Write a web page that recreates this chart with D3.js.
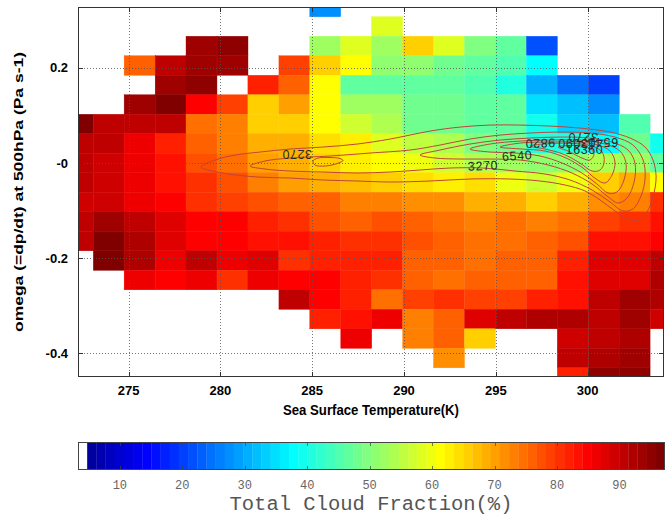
<!DOCTYPE html>
<html>
<head>
<meta charset="utf-8">
<script src="https://cdn.jsdelivr.net/npm/d3@7"></script>
<style>
  html, body { margin: 0; padding: 0; background: #fff; }
  svg { display: block; }
</style>
</head>
<body>
<svg id="chart" width="665" height="515"></svg>
<script>
// ---- Bins: SST (K) column centres and omega (Pa s-1) row centres ----
const sstCenters = [272.23, 273.92, 275.60, 277.29, 278.97, 280.66, 282.34, 284.03, 285.71, 287.40,
                    289.08, 290.77, 292.45, 294.14, 295.82, 297.51, 299.19, 300.88, 302.56, 304.25];
const sstBinWidth = 1.685;
const omegaCenters = [0.328, 0.287, 0.246, 0.205, 0.164, 0.123, 0.082, 0.041, 0, -0.041,
                      -0.082, -0.123, -0.164, -0.205, -0.246, -0.287, -0.328, -0.369, -0.41, -0.451];
const omegaBinWidth = 0.041;

// ---- Mean total cloud fraction (%) per bin; rows follow omegaCenters, columns follow sstCenters ----
const _ = null;
const cloudFraction = [
  [_, _, _, _, _, _, _, _, 28, _, _, _, _, _, _, _, _, _, _, _],
  [_, _, _, _, _, _, _, _, _, _, 59, _, _, _, _, _, _, _, _, _],
  [_, _, _, _, 93, 95, _, _, 52, 58, 52, 66, 58, 50, 46, 21, _, _, _, _],
  [_, _, 76, 90, 93, 94, _, 79, 66, 62, 51, 51.5, 48.5, 46, 45, 38, _, _, _, _],
  [_, _, _, 94, 95.5, _, 82, 75.5, 62, 47, 46, 47, 47, 44.5, 40.5, 30.5, 24, 19.5, _, _],
  [_, _, 94, 97, 84.5, 79, 65.5, 70, 61, 52, 52, 48, 48, 46, 46, 35.5, 31.5, 27, _, _],
  [97, 90, 90, 90, 75, 72.5, 66, 65, 61, 57, 53.5, 48.5, 48, 47, 46, 39, 33.5, 32.5, 45.5, _],
  [90.5, 90, 86, 82, 75.5, 73.5, 69, 68, 64.5, 62.5, 58.5, 55.5, 54, 49, 48, 41, 40.5, 38, 47.5, 39],
  [90.5, 88.5, 86.5, 84, 77.5, 74, 70, 69, 65, 62.5, 61.5, 60, 57.5, 54, 52, 51.5, 51.5, 53.5, 52, 46],
  [90, 88.5, 87, 84, 80, 77, 73, 70.5, 68.5, 66.5, 65.5, 64, 63, 64, 60, 57, 60, 65, 68, 62],
  [89.5, 89, 87, 85.5, 80.5, 79, 77.5, 75.5, 75.5, 73.5, 73.5, 72, 72, 69, 68, 66, 69, 72, 73.5, 80],
  [90, 93.5, 90.5, 88, 85, 84.5, 82, 80, 78, 76, 77, 75.5, 74.5, 73, 74, 73, 74.5, 79, 81, 83],
  [90, 96.5, 91.5, 88, 85, 85, 83.5, 83.5, 82.5, 80.5, 80.5, 77.5, 75.5, 74.5, 74.5, 75.5, 78, 84, 83, 85],
  [_, 97, 91.5, 86.5, 90, 87, 88, 81, 82, 81.5, 82, 76, 75.5, 74.5, 75.5, 76, 82, 87.5, 88, 90.5],
  [_, _, 86.5, 85.5, 86, 80.5, 86.5, 84.5, 84.5, 82.5, 80.5, 75.5, 74.5, 75.5, 75.5, 75.5, 83, 87.5, 88, 91.5],
  [_, _, _, _, _, _, _, 90, 84.5, 82.5, 74.5, 79.5, 80.5, 79.5, 79.5, 82.5, 83.5, 90.5, 93.5, 92.5],
  [_, _, _, _, _, _, _, _, 81.5, 83, 86, 73, 75.5, 88, 90.5, 92.5, 92, 90.5, 94, 89.5],
  [_, _, _, _, _, _, _, _, _, 87, _, 73.5, 75.5, 66, _, _, 89.5, 91, 92.5, _],
  [_, _, _, _, _, _, _, _, _, _, _, _, 72, _, _, _, 90, 92.5, 94, _],
  [_, _, _, _, _, _, _, _, _, _, _, _, _, _, _, _, 82.5, 94.5, 94.5, _]
];

// ---- Axis ticks ----
const xTicks = [275, 280, 285, 290, 295, 300];
const yTicks = [0.2, 0, -0.2, -0.4];
const yTickLabels = ["0.2", "-0", "-0.2", "-0.4"];
const colorbarTicks = [10, 20, 30, 40, 50, 60, 70, 80, 90];

// ---- Sample-count contours, [SST (K), omega (Pa s-1)] ----
const contour3270Outer = [
  [278.94, -0.0084], [279.71, 0.0063], [280.80, 0.0168], [282.16, 0.0231], [283.79, 0.0294],
  [285.59, 0.0336], [287.44, 0.0399], [289.24, 0.0504], [291.42, 0.0672], [293.05, 0.0756],
  [294.68, 0.0798], [296.32, 0.0798], [297.95, 0.0777], [299.58, 0.0735], [301.22, 0.0651],
  [302.31, 0.0525], [303.13, 0.0336], [303.56, 0.0063], [303.73, -0.0294], [303.56, -0.0714],
  [303.23, -0.1029], [302.75, -0.1197], [302.15, -0.1176], [301.49, -0.1008], [300.68, -0.0777],
  [299.86, -0.0588], [298.77, -0.0462], [297.41, -0.0378], [295.77, -0.0336], [293.59, -0.0336],
  [291.42, -0.0378], [289.24, -0.0399], [287.44, -0.0378], [285.59, -0.0357], [283.79, -0.0315],
  [281.99, -0.0294], [280.14, -0.0210]
];
const contour3270Inner = [
  [281.61, -0.0063], [282.43, 0.0042], [283.79, 0.0105], [285.97, 0.0147], [288.15, 0.0210],
  [290.33, 0.0273], [291.96, 0.0378], [293.59, 0.0504], [295.23, 0.0588], [296.86, 0.0630],
  [298.50, 0.0651], [300.13, 0.0630], [301.49, 0.0546], [302.47, 0.0378], [303.02, 0.0063],
  [303.13, -0.0315], [302.91, -0.0693], [302.47, -0.0966], [301.93, -0.1008], [301.22, -0.0819],
  [300.24, -0.0567], [299.04, -0.0357], [297.68, -0.0231], [296.05, -0.0168], [294.30, -0.0105],
  [292.50, -0.0105], [290.87, -0.0147], [289.24, -0.0189], [287.44, -0.0210], [285.59, -0.0189],
  [283.79, -0.0168], [282.43, -0.0126]
];
const contour3270Island = [
  [285.04, 0.0042], [285.32, 0.0105], [285.97, 0.0116], [286.51, 0.0095], [286.68, 0.0053],
  [286.35, -0.0011], [285.70, -0.0063], [285.15, -0.0042]
];
const contour6540 = [
  [290.87, 0.0168], [291.96, 0.0273], [293.59, 0.0399], [295.23, 0.0483], [296.86, 0.0525],
  [298.50, 0.0546], [300.13, 0.0525], [301.33, 0.0441], [302.20, 0.0273], [302.58, 0],
  [302.53, -0.0399], [302.15, -0.0735], [301.66, -0.0840], [301.06, -0.0693], [300.24, -0.0441],
  [299.15, -0.0210], [297.85, -0.0042], [296.32, 0.0063], [294.68, 0.0084], [293.05, 0.0084],
  [291.69, 0.0105]
];
const contour9820 = [
  [293.59, 0.0294], [294.68, 0.0399], [296.32, 0.0462], [297.95, 0.0483], [299.58, 0.0483],
  [300.95, 0.0399], [301.76, 0.0252], [302.09, 0], [301.98, -0.0357], [301.60, -0.0609],
  [301.11, -0.0630], [300.51, -0.0441], [299.69, -0.0210], [298.61, 0], [297.41, 0.0147],
  [296.05, 0.0210], [294.68, 0.0231]
];
const contour13090 = [
  [295.23, 0.0336], [296.32, 0.0420], [297.95, 0.0441], [299.48, 0.0441], [300.57, 0.0378],
  [301.22, 0.0252], [301.49, 0.0021], [301.33, -0.0252], [300.95, -0.0420], [300.46, -0.0336],
  [299.75, -0.0105], [298.83, 0.0105], [297.68, 0.0252], [296.43, 0.0294]
];
const contour16360 = [
  [296.86, 0.0357], [297.95, 0.0410], [299.31, 0.0410], [300.24, 0.0357], [300.79, 0.0231],
  [300.90, 0.0021], [300.68, -0.0147], [300.24, -0.0168], [299.58, 0], [298.66, 0.0189],
  [297.68, 0.0294]
];
const contour19630 = [
  [298.39, 0.0336], [299.31, 0.0368], [300.13, 0.0315], [300.35, 0.0189], [300.13, 0.0063],
  [299.69, 0.0105], [298.94, 0.0252]
];
const contourLines = [contour3270Outer, contour3270Inner, contour3270Island, contour6540,
                      contour9820, contour13090, contour16360, contour19630];

// Inline contour labels: text, SST, omega, rotation (deg)
const contourLabels = [
  ["3270", 284.17, 0.0189, 180],
  ["3270", 294.30, -0.0063, -3],
  ["6540", 296.16, 0.0147, -4],
  ["9820", 297.41, 0.0420, 178],
  ["3270", 299.75, 0.0553, 180],
  ["13090", 299.40, 0.0430, 180],
  ["6540", 300.84, 0.0441, 180],
  ["16360", 299.83, 0.0284, 0]
];

// ---- Layout ----
const plot = { left: 78, right: 664, top: 7, bottom: 377 };
const cbar = { left: 78, right: 665, top: 442, bottom: 470 };

const svg = d3.select("#chart");

const x = d3.scaleLinear().domain([272.244, 304.16]).range([plot.left, plot.right]);
const y = d3.scaleLinear().domain([0.328, -0.4498]).range([plot.top, plot.bottom]);

// ---- Colour map: 64-level jet with the lowest level shown as white ----
const cMin = 3.3, cMax = 97.3, nLevels = 64;
const jet = (() => {
  const n = 16, u = [];
  for (let k = 1; k <= n; k++) u.push(k / n);
  for (let k = 0; k < n - 1; k++) u.push(1);
  for (let k = n; k >= 1; k--) u.push(k / n);
  const at = j => (j >= 1 && j <= u.length) ? u[j - 1] : 0;
  const out = [];
  for (let i = 1; i <= nLevels; i++) {
    out.push(d3.rgb(255 * at(i - 24), 255 * at(i - 8), 255 * at(i + 8)).formatHex());
  }
  out[0] = "#ffffff";
  return out;
})();
const levelOf = v => Math.max(0, Math.min(nLevels - 1, Math.floor((v - cMin) / (cMax - cMin) * nLevels)));
const colorOf = v => jet[levelOf(v)];

// ---- Heat-map cells ----
svg.append("defs").append("clipPath").attr("id", "plotClip")
  .append("rect")
  .attr("x", plot.left).attr("y", plot.top)
  .attr("width", plot.right - plot.left).attr("height", plot.bottom - plot.top);

const cells = [];
cloudFraction.forEach((row, r) => row.forEach((v, c) => {
  if (v !== null) cells.push({ sst: sstCenters[c], omega: omegaCenters[r], v });
}));

const cellLayer = svg.append("g").attr("clip-path", "url(#plotClip)");
cellLayer.selectAll("rect").data(cells).enter().append("rect")
  .attr("x", d => x(d.sst - sstBinWidth / 2))
  .attr("width", d => x(d.sst + sstBinWidth / 2) - x(d.sst - sstBinWidth / 2))
  .attr("y", d => y(d.omega + omegaBinWidth / 2))
  .attr("height", d => y(d.omega - omegaBinWidth / 2) - y(d.omega + omegaBinWidth / 2))
  .attr("fill", d => colorOf(d.v))
  .attr("stroke", d => colorOf(d.v))
  .attr("stroke-width", 0.4);

// ---- Dotted grid ----
const grid = svg.append("g").attr("stroke", "#555").attr("stroke-width", 1)
  .attr("stroke-dasharray", "1,2").attr("opacity", 0.8);
grid.selectAll("line.gx").data(xTicks).enter().append("line")
  .attr("x1", d => Math.round(x(d)) + 0.5).attr("x2", d => Math.round(x(d)) + 0.5)
  .attr("y1", plot.top).attr("y2", plot.bottom);
grid.selectAll("line.gy").data(yTicks).enter().append("line")
  .attr("y1", d => Math.round(y(d)) + 0.5).attr("y2", d => Math.round(y(d)) + 0.5)
  .attr("x1", plot.left).attr("x2", plot.right);

// ---- Contours ----
const contourPath = d3.line()
  .x(d => x(d[0])).y(d => y(d[1]))
  .curve(d3.curveCatmullRomClosed.alpha(0.5));
const contourLayer = svg.append("g").attr("clip-path", "url(#plotClip)");
contourLayer.selectAll("path").data(contourLines).enter().append("path")
  .attr("d", contourPath)
  .attr("fill", "none")
  .attr("stroke", "#c0453a")
  .attr("stroke-width", 1);

contourLayer.selectAll("text").data(contourLabels).enter().append("text")
  .attr("transform", d => `translate(${x(d[1])},${y(d[2])}) rotate(${d[3]})`)
  .attr("text-anchor", "middle")
  .attr("dominant-baseline", "central")
  .attr("font-family", "Liberation Sans, Arial, sans-serif")
  .attr("font-size", 12.5)
  .attr("letter-spacing", 0.6)
  .attr("fill", "#2a2a2a")
  .text(d => d[0]);

// ---- Axes frame and ticks ----
const axisColor = "#333";
svg.append("rect")
  .attr("x", plot.left + 0.5).attr("y", plot.top + 0.5)
  .attr("width", plot.right - plot.left - 1).attr("height", plot.bottom - plot.top - 1)
  .attr("fill", "none").attr("stroke", axisColor).attr("stroke-width", 1);

const ticks = svg.append("g").attr("stroke", axisColor).attr("stroke-width", 1);
xTicks.forEach(t => {
  const px = Math.round(x(t)) + 0.5;
  ticks.append("line").attr("x1", px).attr("x2", px).attr("y1", plot.bottom).attr("y2", plot.bottom - 5);
  ticks.append("line").attr("x1", px).attr("x2", px).attr("y1", plot.top).attr("y2", plot.top + 5);
});
yTicks.forEach(t => {
  const py = Math.round(y(t)) + 0.5;
  ticks.append("line").attr("y1", py).attr("y2", py).attr("x1", plot.left).attr("x2", plot.left + 5);
  ticks.append("line").attr("y1", py).attr("y2", py).attr("x1", plot.right).attr("x2", plot.right - 5);
});

const boldFont = "Liberation Sans, Arial, Helvetica, sans-serif";
svg.append("g").selectAll("text").data(xTicks).enter().append("text")
  .attr("x", d => x(d)).attr("y", 395)
  .attr("text-anchor", "middle")
  .attr("font-family", boldFont).attr("font-weight", "bold").attr("font-size", 13)
  .text(d => d);

svg.append("g").selectAll("text").data(yTicks).enter().append("text")
  .attr("x", 68).attr("y", d => y(d) + 4.5)
  .attr("text-anchor", "end")
  .attr("font-family", boldFont).attr("font-weight", "bold").attr("font-size", 13)
  .text((d, i) => yTickLabels[i]);

svg.append("text")
  .attr("x", 371).attr("y", 415)
  .attr("text-anchor", "middle")
  .attr("font-family", boldFont).attr("font-weight", "bold").attr("font-size", 14)
  .attr("textLength", 176).attr("lengthAdjust", "spacingAndGlyphs")
  .text("Sea Surface Temperature(K)");

svg.append("text")
  .attr("transform", `translate(23,${(plot.top + plot.bottom) / 2}) rotate(-90)`)
  .attr("text-anchor", "middle")
  .attr("font-family", boldFont).attr("font-weight", "bold").attr("font-size", 13)
  .attr("textLength", 280).attr("lengthAdjust", "spacingAndGlyphs")
  .text("omega (=dp/dt) at 500hPa (Pa s-1)");

// ---- Colour bar ----
const cb = d3.scaleLinear().domain([cMin, cMax]).range([cbar.left, cbar.right]);
const step = (cMax - cMin) / nLevels;
svg.append("g").selectAll("rect").data(d3.range(nLevels)).enter().append("rect")
  .attr("x", i => cb(cMin + i * step))
  .attr("width", i => cb(cMin + (i + 1) * step) - cb(cMin + i * step) + 0.3)
  .attr("y", cbar.top).attr("height", cbar.bottom - cbar.top)
  .attr("fill", i => jet[i]);

svg.append("rect")
  .attr("x", cbar.left + 0.5).attr("y", cbar.top + 0.5)
  .attr("width", cbar.right - cbar.left - 1).attr("height", cbar.bottom - cbar.top - 1)
  .attr("fill", "none").attr("stroke", "#444").attr("stroke-width", 1);

const cbTickG = svg.append("g").attr("stroke", "#444").attr("stroke-width", 1).attr("opacity", 0.7);
colorbarTicks.forEach(t => {
  const px = Math.round(cb(t)) + 0.5;
  cbTickG.append("line").attr("x1", px).attr("x2", px).attr("y1", cbar.top).attr("y2", cbar.top + 4);
  cbTickG.append("line").attr("x1", px).attr("x2", px).attr("y1", cbar.bottom).attr("y2", cbar.bottom - 4);
});

svg.append("g").selectAll("text").data(colorbarTicks).enter().append("text")
  .attr("x", d => cb(d)).attr("y", 489)
  .attr("text-anchor", "middle")
  .attr("font-family", "Liberation Mono, Courier New, monospace").attr("font-size", 12)
  .attr("fill", "#666")
  .text(d => d);

svg.append("text")
  .attr("x", 371).attr("y", 510)
  .attr("text-anchor", "middle")
  .attr("font-family", "Liberation Mono, Courier New, monospace").attr("font-size", 20.5)
  .attr("fill", "#555")
  .text("Total Cloud Fraction(%)");
</script>
</body>
</html>
